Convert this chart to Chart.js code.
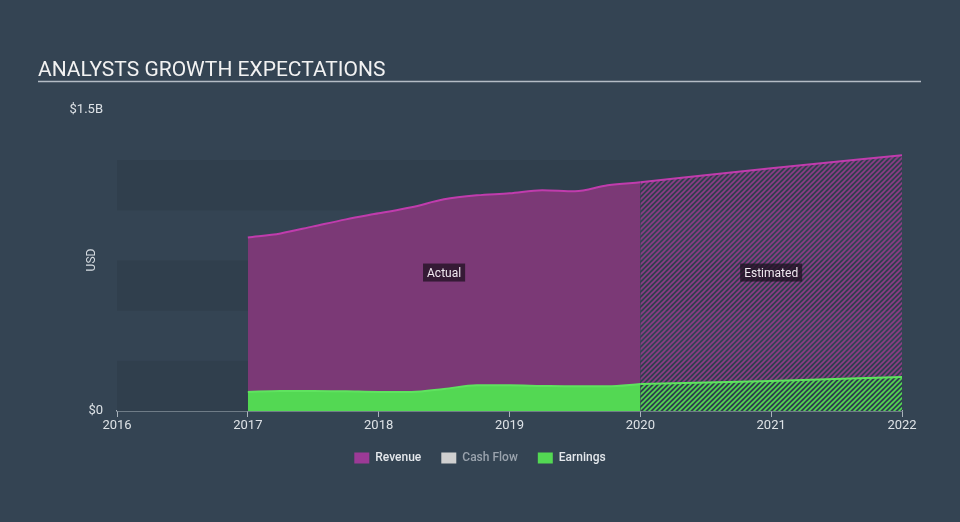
<!DOCTYPE html>
<html>
<head>
<meta charset="utf-8">
<script src="https://cdn.jsdelivr.net/npm/chart.js@4/dist/chart.umd.min.js"></script>
<style>
  html, body { margin: 0; padding: 0; background: #344453; }
  #wrap { width: 960px; height: 522px; position: relative; }
</style>
</head>
<body>
<div id="wrap"><canvas id="growth-chart" width="960" height="522"></canvas></div>
<script>
// dados (USD)
const actualYears = [2017, 2017.25, 2017.5, 2017.75, 2018, 2018.25, 2018.5, 2018.75, 2019, 2019.25, 2019.5, 2019.75, 2020];
const revenueActual = [0.865e9, 0.885e9, 0.92e9, 0.955e9, 0.985e9, 1.015e9, 1.055e9, 1.075e9, 1.085e9, 1.10e9, 1.095e9, 1.125e9, 1.14e9];
const earningsActual = [0.095e9, 0.10e9, 0.10e9, 0.098e9, 0.095e9, 0.095e9, 0.11e9, 0.128e9, 0.128e9, 0.125e9, 0.123e9, 0.123e9, 0.135e9];

const estimateYears = [2020, 2021, 2022];
const revenueEstimate = [1.14e9, 1.21e9, 1.275e9];
const earningsEstimate = [0.135e9, 0.15e9, 0.17e9];

const legendNames = ['Revenue', 'Cash Flow', 'Earnings'];
const yTickValues = [0, 1.5e9];

const revenueFill = '#7b3976';
const revenueLine = '#c03cad';
const earningsFill = '#53d853';
const earningsLine = '#5fe35f';

// padrão de hachura para a parte estimada
function makeHatch(color) {
    const size = 5;
    const c = document.createElement('canvas');
    c.width = size; c.height = size;
    const g = c.getContext('2d');
    g.strokeStyle = color;
    g.lineWidth = 1.6;
    g.beginPath();
    g.moveTo(0, size); g.lineTo(size, 0);
    g.moveTo(-1, 1); g.lineTo(1, -1);
    g.moveTo(size - 1, size + 1); g.lineTo(size + 1, size - 1);
    g.stroke();
    return g.createPattern(c, 'repeat');
}

const toPoints = (xs, ys) => xs.map((x, i) => ({ x: x, y: ys[i] }));

function fmtUSD(v) {
    if (v === 0) return '$0';
    return '$' + (v / 1e9) + 'B';
}

// faixas de fundo, título e rótulos Actual/Estimated
const decorations = {
    id: 'decorations',
    beforeDatasetsDraw(chart) {
        const { ctx, chartArea } = chart;
        const y = chart.scales.y;
        ctx.save();
        ctx.fillStyle = '#303f4d';
        for (let v = 0; v < 1.25e9; v += 0.5e9) {
            const top = y.getPixelForValue(v + 0.25e9);
            const bottom = y.getPixelForValue(v);
            ctx.fillRect(chartArea.left, top, chartArea.right - chartArea.left, bottom - top);
        }
        ctx.restore();
    },
    afterDatasetsDraw(chart) {
        const { ctx } = chart;
        const x = chart.scales.x, y = chart.scales.y;
        ctx.save();
        ctx.font = '12px Roboto, sans-serif';
        ctx.textBaseline = 'middle';
        ctx.textAlign = 'center';
        const tags = [
            ['Actual', (actualYears[0] + actualYears[actualYears.length - 1]) / 2],
            ['Estimated', (estimateYears[0] + estimateYears[estimateYears.length - 1]) / 2]
        ];
        const ty = y.getPixelForValue(0.69e9);
        tags.forEach(([txt, xv]) => {
            const px = x.getPixelForValue(xv);
            const w = ctx.measureText(txt).width + 8;
            ctx.fillStyle = 'rgba(30,16,32,0.75)';
            ctx.fillRect(px - w / 2, ty - 9, w, 18);
            ctx.fillStyle = '#f0e8f0';
            ctx.fillText(txt, px, ty + 1);
        });
        ctx.restore();
    },
    afterDraw(chart) {
        const { ctx } = chart;
        ctx.save();
        ctx.fillStyle = '#f2f2f2';
        ctx.font = '21px Roboto, sans-serif';
        ctx.textBaseline = 'alphabetic';
        ctx.textAlign = 'left';
        ctx.fillText('ANALYSTS GROWTH EXPECTATIONS', 38, 76);
        ctx.strokeStyle = '#b4bcc5';
        ctx.lineWidth = 1.5;
        ctx.beginPath();
        ctx.moveTo(38, 81.5); ctx.lineTo(921, 81.5);
        ctx.stroke();
        // título do eixo
        ctx.translate(92, 260);
        ctx.rotate(-Math.PI / 2);
        ctx.textAlign = 'center';
        ctx.textBaseline = 'middle';
        ctx.font = '12px Roboto, sans-serif';
        ctx.fillStyle = '#d5dbe0';
        ctx.fillText('USD', 0, 0);
        ctx.restore();
    }
};

const canvas = document.getElementById('growth-chart');

new Chart(canvas, {
    type: 'line',
    data: {
        datasets: [
            {
                label: 'Earnings',
                data: toPoints(actualYears, earningsActual),
                borderColor: earningsLine, backgroundColor: earningsFill,
                borderWidth: 2, fill: 'origin', order: 0
            },
            {
                label: 'Earnings est',
                data: toPoints(estimateYears, earningsEstimate),
                borderColor: earningsLine, backgroundColor: makeHatch(earningsFill),
                borderWidth: 2, fill: 'origin', order: 1
            },
            {
                label: 'Revenue',
                data: toPoints(actualYears, revenueActual),
                borderColor: revenueLine, backgroundColor: revenueFill,
                borderWidth: 2, fill: 'origin', order: 2
            },
            {
                label: 'Revenue est',
                data: toPoints(estimateYears, revenueEstimate),
                borderColor: revenueLine, backgroundColor: makeHatch('#8b3d86'),
                borderWidth: 2, fill: 1, order: 3
            }
        ]
    },
    options: {
        responsive: false,
        animation: false,
        layout: { padding: { top: 110, left: 0, right: 0, bottom: 48 } },
        elements: {
            point: { radius: 0 },
            line: { tension: 0.35, cubicInterpolationMode: 'monotone' }
        },
        scales: {
            x: {
                type: 'linear', min: 2016, max: 2022,
                ticks: { stepSize: 1, color: '#dde2e6', font: { size: 13, family: 'Roboto' }, padding: 1, callback: v => String(v) },
                grid: { display: true, drawOnChartArea: false, drawTicks: true, tickLength: 6, color: '#aab3bc' },
                border: { display: true, color: '#aab3bc', width: 1.5 },
                afterFit: s => { s.height = 21; }
            },
            y: {
                min: 0, max: 1.5e9,
                afterBuildTicks: s => { s.ticks = yTickValues.map(v => ({ value: v })); },
                ticks: { color: '#dde2e6', font: { size: 13, family: 'Roboto' }, padding: 6, callback: v => fmtUSD(v) },
                grid: { display: false },
                border: { display: false },
                afterFit: s => { s.width = 117; }
            },
            // eixo vazio só para reservar a margem direita
            y2: {
                position: 'right', display: true, min: 0, max: 1.5e9,
                ticks: { display: false }, grid: { display: false }, border: { display: false },
                afterFit: s => { s.width = 58; }
            }
        },
        plugins: {
            tooltip: { enabled: false },
            legend: {
                position: 'bottom',
                onClick: null,
                labels: {
                    boxWidth: 15, boxHeight: 11, padding: 20,
                    font: { size: 12, family: 'Roboto', weight: '500' },
                    generateLabels: () => legendNames.map((n, i) => ({
                        text: n,
                        fillStyle: ['#9c3a96', '#d0d0d0', earningsFill][i],
                        strokeStyle: 'transparent',
                        lineWidth: 0,
                        fontColor: i === 1 ? '#9aa3ad' : '#e4e8ec',
                        hidden: false,
                        datasetIndex: i
                    }))
                }
            }
        }
    },
    plugins: [decorations]
});
</script>
</body>
</html>
